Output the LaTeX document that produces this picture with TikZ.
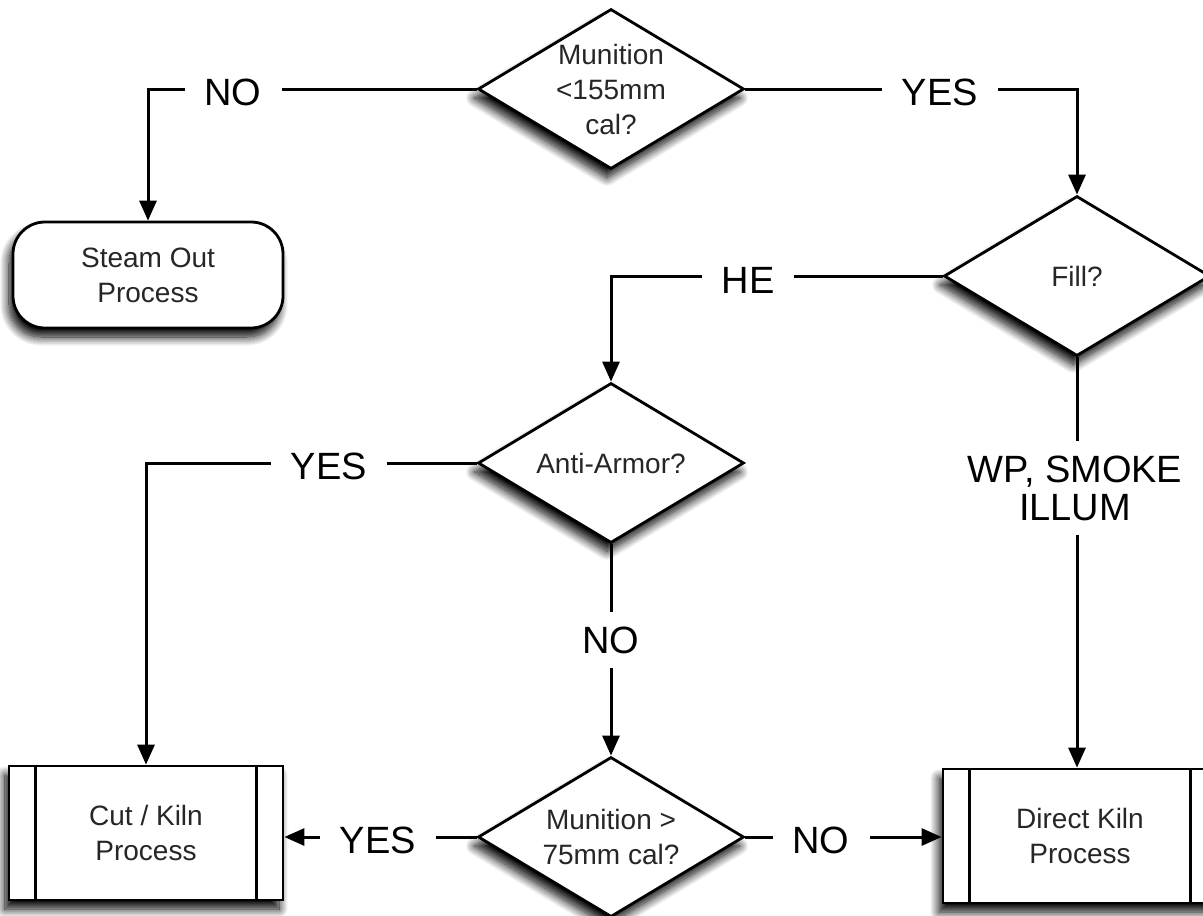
\documentclass[tikz,border=0pt]{standalone}
\usepackage{fontspec}
\setmainfont{Liberation Sans}
\usetikzlibrary{shapes.geometric,shadows.blur,arrows.meta,calc}

\begin{document}
\begin{tikzpicture}[x=1pt,y=-1pt,
  every node/.style={inner sep=0pt},
  dropshade/.style={blur shadow={shadow xshift=-4pt,shadow yshift=-9pt,
      shadow blur radius=9pt,shadow blur steps=14,shadow opacity=100}},
  decision/.style={draw=black,line width=2.8pt,fill=white,shape=diamond,
      minimum width=266pt,minimum height=160pt,dropshade},
  nodetext/.style={font=\fontsize{28}{35}\selectfont,text=black!85,align=center},
  terminal/.style={draw=black,line width=2.8pt,fill=white,rounded corners=32pt,
      minimum width=270pt,minimum height=106pt,dropshade,nodetext},
  procbox/.style={draw=black,line width=2.8pt,fill=white,
      minimum width=274pt,minimum height=134pt,dropshade,nodetext},
  lbl/.style={fill=white,font=\fontsize{38}{38}\selectfont,
      inner xsep=20pt,inner ysep=15pt,align=center},
  flow/.style={line width=3pt,-{Triangle[length=20pt,width=17pt]}}
]
\useasboundingbox (0,0) rectangle (1203,916);
\clip (0,0) rectangle (1203,916);

% decisions
\node[decision] (q1) at (611,89) {};
\node[nodetext] at (q1) {Munition\\<155mm\\cal?};
\node[decision] (fill) at (1077,276) {};
\node[nodetext] at (fill) {Fill?};
\node[decision] (aa) at (611,463) {};
\node[nodetext] at (aa) {Anti-Armor?};
\node[decision] (q75) at (611,837) {};
\node[nodetext] at (q75) {Munition >\\75mm cal?};

% terminal and processes
\node[terminal] (steam) at (148,275) {Steam Out\\Process};
\node[procbox] (cut) at (146,833) {Cut / Kiln\\Process};
\node[procbox] (kiln) at (1080,836) {Direct Kiln\\Process};
\foreach \b in {cut,kiln}{
  \draw[line width=2.8pt] ($(\b.north west)+(28,0)$) -- ($(\b.south west)+(28,0)$);
  \draw[line width=2.8pt] ($(\b.north east)+(-28,0)$) -- ($(\b.south east)+(-28,0)$);
}

% connectors
\draw[flow] (q1.west) -| (steam.north);
\draw[flow] (q1.east) -| (fill.north);
\draw[flow] (fill.west) -| (aa.north);
\draw[flow] (fill.south) -- (fill.south |- kiln.north);
\draw[flow] (aa.west) -| (cut.north);
\draw[flow] (aa.south) -- (q75.north);
\draw[flow] (q75.west) -- (q75.west -| cut.east);
\draw[flow] (q75.east) -- (q75.east -| kiln.west);

% connector labels
\node[lbl] at (233,92) {NO};
\node[lbl] at (940,92) {YES};
\node[lbl] at (748,280) {HE};
\node[lbl] at (1075,488) {WP, SMOKE\\ILLUM};
\node[lbl] at (329,466) {YES};
\node[lbl] at (611,640) {NO};
\node[lbl] at (378,840) {YES};
\node[lbl] at (821,840) {NO};
\end{tikzpicture}
\end{document}
